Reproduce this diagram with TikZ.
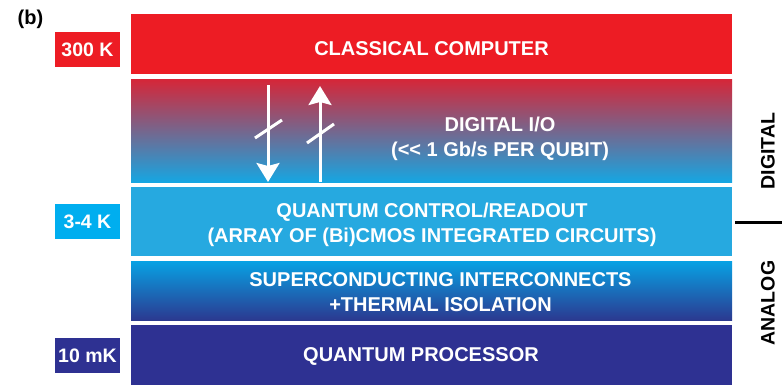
\documentclass[tikz,border=0pt]{standalone}
\usepackage{fontspec}
\setmainfont{Liberation Sans}
\usetikzlibrary{arrows.meta}
\definecolor{cred}{RGB}{237,28,36}
\definecolor{gtop}{RGB}{214,38,56}
\definecolor{gbot}{RGB}{22,166,226}
\definecolor{cqc}{RGB}{38,169,224}
\definecolor{btop}{RGB}{8,162,228}
\definecolor{bbot}{RGB}{43,57,144}
\definecolor{cdark}{RGB}{46,49,146}
\definecolor{ccyan}{RGB}{0,174,239}
\tikzset{
  band/.style={minimum width=601pt, inner sep=0pt, outer sep=0pt},
  templabel/.style={minimum width=65pt, minimum height=35pt, inner sep=0pt, text=white,
    font=\fontsize{19.5}{22}\selectfont\bfseries},
  bandtext/.style={text=white, font=\fontsize{20}{25}\selectfont\bfseries, align=center, inner sep=0pt},
  sidetext/.style={rotate=90, font=\fontsize{19.5}{22}\selectfont\bfseries, inner sep=0pt},
  ioarrow/.style={white, line width=3pt, -{Stealth[length=19pt,width=23pt,inset=3pt]}},
  slash/.style={white, line width=3pt}
}
\begin{document}
\begin{tikzpicture}[x=1pt,y=-1pt]
\useasboundingbox (0,0) rectangle (782,384);
% bands
\node[band, fill=cred, minimum height=60pt] (cc) at (431.5,44) {};
\node[band, top color=gtop, bottom color=gbot, minimum height=103pt] (io) at (431.5,130.5) {};
\node[band, fill=cqc, minimum height=69pt] (qc) at (431.5,221.5) {};
\node[band, top color=btop, bottom color=bbot, minimum height=59pt] (sc) at (431.5,290.5) {};
\node[band, fill=cdark, minimum height=60pt] (qp) at (431.5,355) {};
% band texts
\node[bandtext] (cctext) at (431.5,49) {CLASSICAL COMPUTER};
\node[bandtext] (iotext) at (500,138.5) {DIGITAL I/O\\({<}{<} 1 Gb/s PER QUBIT)};
\node[bandtext] (qctext) at (432,225) {QUANTUM CONTROL/READOUT\\(ARRAY OF (Bi)CMOS INTEGRATED CIRCUITS)};
\node[bandtext] (sctext) at (440.5,292) {SUPERCONDUCTING INTERCONNECTS\\+THERMAL ISOLATION};
\node[bandtext] (qptext) at (421,356.5) {QUANTUM PROCESSOR};
% temperature labels
\node[templabel, fill=cred] (t300) at (87.5,49.5) {300 K};
\node[templabel, fill=ccyan] (t34) at (87.5,221.5) {3-4 K};
\node[templabel, fill=cdark] (t10) at (87.5,355.5) {10 mK};
% panel label
\node[font=\fontsize{20}{22}\selectfont\bfseries, inner sep=0pt] (lab) at (30.5,19) {(b)};
% arrows
\coordinate (d1) at (268,85);
\coordinate (d2) at (268,182);
\coordinate (u1) at (320,182);
\coordinate (u2) at (320,86);
\draw[ioarrow] (d1) -- (d2);
\draw[ioarrow] (u1) -- (u2);
\coordinate (s1a) at (255,138);
\coordinate (s1b) at (282,120);
\coordinate (s2a) at (307,143);
\coordinate (s2b) at (334,124);
\draw[slash] (s1a) -- (s1b);
\draw[slash] (s2a) -- (s2b);
% side labels
\node[sidetext] (dig) at (768,151) {DIGITAL};
\node[sidetext] (ana) at (768,303) {ANALOG};
\coordinate (sepa) at (735,222);
\coordinate (sepb) at (782,222);
\draw[line width=3pt] (sepa) -- (sepb);
\end{tikzpicture}
\end{document}
